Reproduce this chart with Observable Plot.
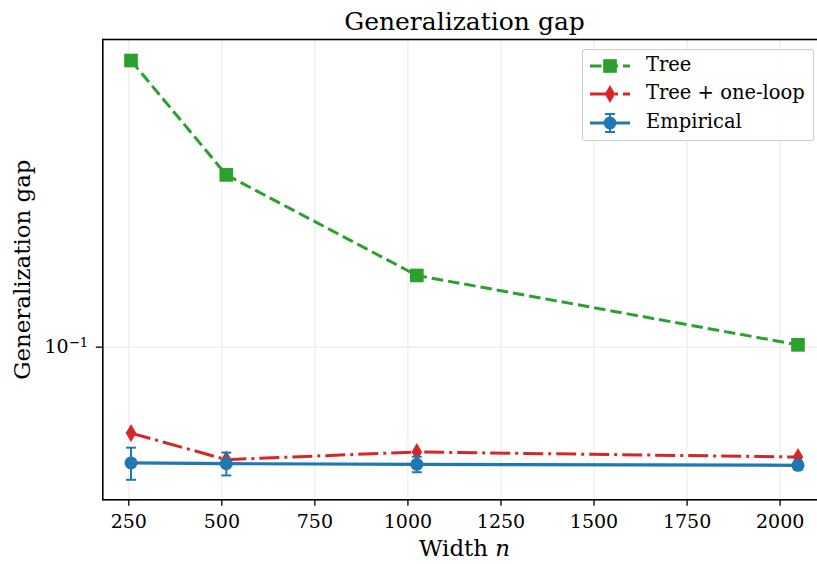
<!DOCTYPE html>
<html>
<head>
<meta charset="utf-8">
<script src="https://cdn.jsdelivr.net/npm/d3@7"></script>
<script src="https://cdn.jsdelivr.net/npm/@observablehq/plot@0.6"></script>
<style>
  html, body { margin: 0; padding: 0; background: white; overflow: hidden; }
  #wrap { position: relative; width: 817px; height: 564px; overflow: hidden; font-family: "DejaVu Serif", serif; }
  #chart svg { max-width: none !important; }
  #legend { position: absolute; left: 582px; top: 49px; width: 232px; height: 92px; box-sizing: border-box;
            border: 1px solid #cccccc; border-radius: 3px; background: rgba(255,255,255,0.85); }
  .row { position: absolute; left: 0; height: 28px; display: flex; align-items: center; }
  .row svg { display: block; }
  .row span { position: absolute; left: 63px; font-size: 19.5px; color: #000; white-space: nowrap; line-height: 28px; top: -1px; }
</style>
</head>
<body>
<div id="wrap"><div id="chart"></div><div id="legend"></div></div>
<script>
// ---- data ----
const widths = [256, 512, 1024, 2048];
const treeGap = [0.5589, 0.2813, 0.1538, 0.1014];
const oneLoopGap = [0.0597, 0.0509, 0.0533, 0.0517];
const empiricalGap = [0.0499, 0.0497, 0.0495, 0.0492];
const empiricalErr = [0.0048, 0.0034, 0.0023, 0.0012];
const xTicks = [250, 500, 750, 1000, 1250, 1500, 1750, 2000];
const yTicks = [0.1];
const seriesNames = ["Tree", "Tree + one-loop", "Empirical"];
const colors = ["#2ca02c", "#d62728", "#1f77b4"];

const tree = widths.map((n, i) => ({n, v: treeGap[i]}));
const oneLoop = widths.map((n, i) => ({n, v: oneLoopGap[i]}));
const emp = widths.map((n, i) => ({n, v: empiricalGap[i], lo: empiricalGap[i] - empiricalErr[i], hi: empiricalGap[i] + empiricalErr[i]}));

const capSymbol = { draw(ctx, size) { const w = Math.sqrt(size) / 2; ctx.moveTo(-w, 0); ctx.lineTo(w, 0); } };

const chart = Plot.plot({
  width: 826, height: 564,
  marginLeft: 102.3, marginRight: 0.3, marginTop: 39, marginBottom: 64.7,
  style: { fontFamily: "DejaVu Serif", fontSize: "19px", color: "black", background: "white", overflow: "visible", maxWidth: "none" },
  x: { domain: [180.2, 2123.8] },
  y: { type: "log", domain: [0.04, 0.634] },
  marks: [
    Plot.gridX(xTicks, { stroke: "#e8e8e8", strokeOpacity: 1, strokeWidth: 1 }),
    Plot.gridY(yTicks, { stroke: "#e8e8e8", strokeOpacity: 1, strokeWidth: 1 }),
    Plot.line(tree, { x: "n", y: "v", stroke: colors[0], strokeWidth: 3, strokeDasharray: "11.5,5", strokeLinecap: "butt" }),
    Plot.dot(tree, { x: "n", y: "v", symbol: "square", r: 7.7, fill: colors[0], stroke: null }),
    Plot.line(oneLoop, { x: "n", y: "v", stroke: colors[1], strokeWidth: 3, strokeDasharray: "20,5,3,5", strokeLinecap: "butt" }),
    Plot.dot(oneLoop, { x: "n", y: "v", symbol: "diamond", r: 5.5, fill: colors[1], stroke: null }),
    Plot.ruleX(emp, { x: "n", y1: "lo", y2: "hi", stroke: colors[2], strokeWidth: 2 }),
    Plot.line(emp, { x: "n", y: "v", stroke: colors[2], strokeWidth: 3.2 }),
    Plot.dot(emp, { x: "n", y: "v", symbol: "circle", r: 6.5, fill: colors[2], stroke: null }),
    Plot.dot(emp, { x: "n", y: "lo", symbol: capSymbol, r: 5.6, stroke: colors[2], strokeWidth: 2, fill: "none" }),
    Plot.dot(emp, { x: "n", y: "hi", symbol: capSymbol, r: 5.6, stroke: colors[2], strokeWidth: 2, fill: "none" }),
    Plot.frame({ stroke: "black", strokeWidth: 1.6 }),
    Plot.axisX(xTicks, { tickSize: 6.5, tickPadding: 8.5, tickFormat: d3.format("d"), label: null, strokeWidth: 1.3, fontSize: 19 }),
    Plot.axisY(yTicks, { tickSize: 6.5, tickPadding: 8, tickFormat: () => "10", label: null, strokeWidth: 1.3, fontSize: 19 }),
    Plot.text(["Generalization gap"], { frameAnchor: "top", textAnchor: "middle", lineAnchor: "middle", dy: -18, fontSize: 25 }),
    Plot.text(["Width n"], { frameAnchor: "bottom", textAnchor: "middle", lineAnchor: "middle", dy: 48.4, fontSize: 22.9 }),
    Plot.text(["Generalization gap"], { frameAnchor: "left", textAnchor: "middle", lineAnchor: "middle", dx: -80.6, rotate: -90, fontSize: 22.9 })
  ]
});
document.getElementById("chart").appendChild(chart);

// mixed-style texts
d3.select(chart).selectAll("text").each(function() {
  const t = d3.select(this);
  if (this.textContent === "Width n") {
    t.text("Width ");
    t.append("tspan").attr("font-style", "italic").text("n");
  } else if (this.textContent === "10" && this.closest('[aria-label="y-axis tick label"]')) {
    t.append("tspan").attr("dy", "-0.5em").attr("font-size", "0.7em").text("\u22121");
  }
});

// legend
const legend = d3.select("#legend");
const rowTops = [2, 30.3, 58.7];
const dashes = ["11.5,5", "20,5,3,5", null];
seriesNames.forEach((name, i) => {
  const row = legend.append("div").attr("class", "row").style("top", rowTops[i] + "px");
  const svg = row.append("svg").attr("width", 56).attr("height", 28);
  svg.append("line").attr("x1", 7).attr("x2", 47).attr("y1", 14).attr("y2", 14)
    .attr("stroke", colors[i]).attr("stroke-width", i === 2 ? 3.2 : 3)
    .attr("stroke-dasharray", dashes[i]);
  const sym = [d3.symbolSquare, d3.symbolDiamond, d3.symbolCircle][i];
  const r = [7.7, 5.5, 6.5][i];
  if (i === 2) {
    svg.append("line").attr("x1", 27).attr("x2", 27).attr("y1", 5).attr("y2", 23).attr("stroke", colors[i]).attr("stroke-width", 2);
    svg.append("line").attr("x1", 22).attr("x2", 32).attr("y1", 5).attr("y2", 5).attr("stroke", colors[i]).attr("stroke-width", 2);
    svg.append("line").attr("x1", 22).attr("x2", 32).attr("y1", 23).attr("y2", 23).attr("stroke", colors[i]).attr("stroke-width", 2);
  }
  svg.append("path").attr("transform", "translate(27,14)")
    .attr("d", d3.symbol(sym, r * r * Math.PI)()).attr("fill", colors[i]);
  row.append("span").text(name);
});
</script>
</body>
</html>
